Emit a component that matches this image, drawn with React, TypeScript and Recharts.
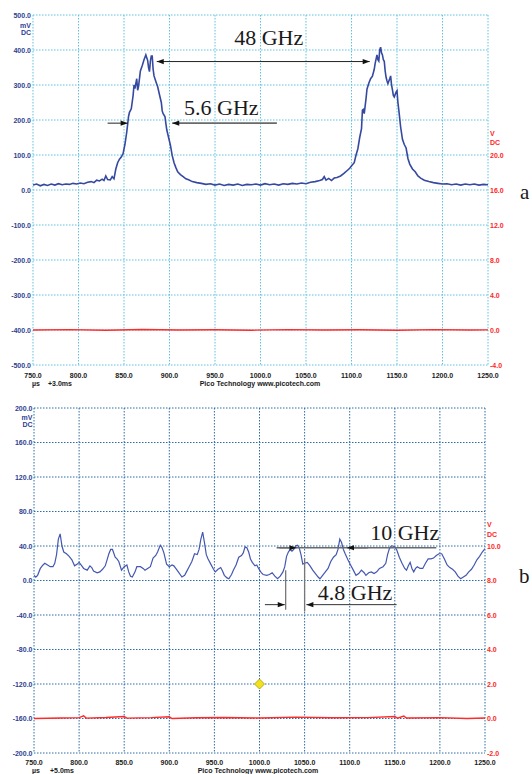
import { ComposedChart, Line, XAxis, YAxis, CartesianGrid, ReferenceLine, ReferenceDot } from 'recharts'

const timeTicks = [750, 800, 850, 900, 950, 1000, 1050, 1100, 1150, 1200, 1250]
const mvTicksA = [-500, -400, -300, -200, -100, 0, 100, 200, 300, 400, 500]
const vTicksA = [-4, 0, 4, 8, 12, 16, 20]
const mvTicksB = [-200, -160, -120, -80, -40, 0, 40, 80, 120, 160, 200]
const vTicksB = [-2, 0, 2, 4, 6, 8, 10]

// panel a: time (µs), mV
const traceA: [number, number][] = [
  [750, 14], [754, 17], [758, 12], [762, 16], [766, 13], [770, 17], [774, 14], [778, 18], [782, 15], [786, 17],
  [790, 16], [794, 19], [798, 17], [802, 20], [806, 18], [810, 22], [814, 24], [817, 21], [820, 28], [823, 26],
  [826, 31], [828, 27], [830, 40], [832, 30], [835, 29], [837, 38], [839, 32], [841, 60], [843, 78], [845, 88],
  [847, 94], [849, 104], [851, 130], [853, 165], [855, 210], [856, 222], [858, 232], [860, 270], [861, 300], [862, 290],
  [864, 318], [865, 285], [866, 296], [868, 340], [870, 355], [872, 372], [874, 386], [875, 378], [876, 370], [877, 350],
  [878, 338], [879, 368], [880, 383], [881, 383], [882, 345], [883, 326], [885, 310], [887, 295], [889, 272], [891, 250],
  [892, 226], [893, 218], [895, 210], [896, 190], [897, 172], [899, 150], [901, 128], [903, 98], [905, 78], [907, 64],
  [909, 52], [912, 44], [915, 38], [918, 32], [921, 29], [925, 24], [930, 21], [935, 19], [940, 16], [945, 18],
  [950, 14], [955, 17], [960, 13], [965, 16], [970, 14], [975, 17], [980, 13], [985, 16], [990, 15], [995, 17],
  [1000, 14], [1005, 18], [1010, 15], [1015, 17], [1020, 14], [1025, 18], [1030, 16], [1035, 19], [1040, 17], [1045, 20],
  [1050, 18], [1055, 22], [1060, 24], [1065, 27], [1068, 30], [1070, 38], [1072, 28], [1075, 33], [1078, 27], [1081, 34],
  [1084, 36], [1088, 40], [1092, 48], [1095, 55], [1098, 62], [1101, 72], [1103, 78], [1105, 100], [1107, 118], [1109, 150],
  [1111, 175], [1112, 228], [1113, 230], [1114, 218], [1116, 262], [1117, 288], [1119, 305], [1121, 318], [1123, 325], [1125, 345],
  [1126, 362], [1128, 386], [1129, 372], [1130, 368], [1131, 400], [1132, 408], [1133, 392], [1134, 386], [1135, 372], [1136, 368],
  [1137, 340], [1138, 322], [1139, 312], [1140, 304], [1142, 318], [1143, 326], [1144, 300], [1145, 286], [1146, 270], [1147, 266],
  [1149, 280], [1150, 284], [1151, 250], [1152, 228], [1154, 180], [1156, 145], [1158, 130], [1160, 120], [1162, 90], [1164, 74],
  [1167, 60], [1170, 52], [1173, 40], [1176, 34], [1180, 28], [1185, 24], [1190, 21], [1195, 19], [1200, 17], [1205, 18],
  [1210, 15], [1215, 17], [1220, 14], [1225, 17], [1230, 15], [1235, 17], [1240, 14], [1245, 16], [1250, 15],
]

// panel a: time (µs), V
const redA: [number, number][] = [
  [750, 0], [790, 0.04], [830, -0.03], [870, 0.05], [910, 0], [950, 0.03], [990, -0.02], [1030, 0.04],
  [1070, 0], [1110, 0.03], [1150, -0.02], [1190, 0.04], [1230, 0], [1250, 0.02],
]

// panel b: time (µs), mV
const traceB: [number, number][] = [
  [750, 6], [752, 4], [754, 6], [757, 14], [760, 18], [762, 20], [765, 18], [768, 16], [771, 16], [773, 20],
  [775, 30], [777, 48], [779, 54], [781, 40], [783, 33], [786, 31], [789, 28], [792, 24], [795, 17], [798, 19],
  [800, 21], [803, 17], [805, 14], [809, 12], [812, 17], [814, 15], [816, 11], [820, 9], [823, 10], [826, 13],
  [829, 17], [831, 24], [833, 31], [835, 36], [837, 36], [840, 27], [842, 25], [844, 22], [847, 12], [850, 16],
  [853, 18], [855, 10], [857, 5], [859, 4], [862, 10], [864, 16], [868, 16], [871, 14], [873, 12], [876, 14],
  [879, 16], [882, 26], [885, 29], [887, 33], [890, 41], [892, 38], [894, 32], [897, 19], [900, 16], [903, 18],
  [905, 17], [908, 13], [910, 10], [914, 4], [917, 6], [919, 10], [922, 16], [925, 22], [928, 31], [931, 30],
  [933, 36], [935, 48], [937, 56], [939, 44], [941, 30], [943, 25], [946, 19], [949, 13], [951, 10], [954, 13],
  [957, 15], [959, 11], [961, 6], [964, 3], [966, 2], [969, 7], [971, 12], [974, 18], [977, 27], [980, 29],
  [982, 32], [984, 39], [986, 38], [988, 33], [990, 25], [992, 21], [995, 17], [997, 18], [999, 14], [1002, 9],
  [1004, 7], [1008, 6], [1011, 7], [1014, 9], [1017, 5], [1020, 2], [1023, 5], [1026, 10], [1028, 16], [1030, 28],
  [1032, 33], [1034, 36], [1036, 34], [1038, 36], [1040, 40], [1042, 41], [1044, 38], [1046, 30], [1048, 19], [1050, 20],
  [1053, 21], [1056, 17], [1059, 12], [1062, 8], [1065, 4], [1067, 2], [1070, 6], [1073, 10], [1076, 14], [1079, 22],
  [1082, 27], [1085, 30], [1087, 36], [1089, 48], [1091, 44], [1093, 36], [1095, 31], [1098, 24], [1101, 18], [1104, 12],
  [1107, 6], [1110, 8], [1113, 12], [1116, 9], [1118, 6], [1121, 9], [1124, 10], [1127, 8], [1130, 10], [1133, 14],
  [1137, 16], [1140, 20], [1142, 30], [1144, 37], [1146, 40], [1148, 40], [1150, 39], [1152, 36], [1155, 27], [1158, 20],
  [1161, 14], [1163, 12], [1165, 17], [1167, 21], [1169, 14], [1171, 10], [1173, 14], [1175, 16], [1178, 14], [1181, 14],
  [1184, 20], [1187, 25], [1190, 25], [1193, 26], [1196, 29], [1199, 31], [1202, 31], [1205, 25], [1208, 18], [1211, 15],
  [1214, 13], [1217, 10], [1220, 5], [1223, 2], [1226, 4], [1229, 6], [1232, 10], [1235, 13], [1238, 18], [1241, 24],
  [1244, 28], [1247, 33], [1250, 37],
]

// panel b: time (µs), V
const redB: [number, number][] = [
  [750, 0], [780, 0.03], [800, 0.05], [805, 0.15], [808, 0.02], [830, 0.06], [850, 0.12], [853, 0.02], [880, 0.05],
  [900, 0.1], [903, 0], [930, 0.04], [960, 0.06], [1000, 0.03], [1040, 0.08], [1080, 0.04], [1120, 0.05], [1150, 0.12],
  [1153, 0.02], [1160, 0.14], [1163, 0.03], [1200, 0.05], [1230, 0], [1250, 0.03],
]

const toRows = (pairs: [number, number][]) => pairs.map(([t, v]) => ({ t, v }))

const SANS = 'Liberation Sans, Arial, sans-serif'
const SERIF = 'Liberation Serif, Times New Roman, serif'
const BLUE_TXT = '#2d3f92'
const RED_TXT = '#ff2626'

const leftTick = (topVal: number, dx: number, unitDy: [number, number]) => (p: any) => {
  const v = p.payload.value
  return (
    <g>
      <text x={p.x + dx} y={p.y} textAnchor="end" dominantBaseline="central" fontSize={7} fontWeight="bold" fontFamily={SANS} fill={BLUE_TXT}>
        {v.toFixed(1)}
      </text>
      {v === topVal && (
        <>
          <text x={p.x + dx} y={p.y + unitDy[0]} textAnchor="end" dominantBaseline="central" fontSize={7} fontWeight="bold" fontFamily={SANS} fill={BLUE_TXT}>mV</text>
          <text x={p.x + dx} y={p.y + unitDy[1]} textAnchor="end" dominantBaseline="central" fontSize={7} fontWeight="bold" fontFamily={SANS} fill={BLUE_TXT}>DC</text>
        </>
      )}
    </g>
  )
}

const rightTick = (topVal: number, dx: number, unitDy: [number, number]) => (p: any) => {
  const v = p.payload.value
  return (
    <g>
      <text x={p.x + dx} y={p.y} textAnchor="start" dominantBaseline="central" fontSize={7} fontWeight="bold" fontFamily={SANS} fill={RED_TXT}>
        {v.toFixed(1)}
      </text>
      {v === topVal && (
        <>
          <text x={p.x + dx} y={p.y + unitDy[0]} textAnchor="start" dominantBaseline="central" fontSize={7} fontWeight="bold" fontFamily={SANS} fill={RED_TXT}>V</text>
          <text x={p.x + dx} y={p.y + unitDy[1]} textAnchor="start" dominantBaseline="central" fontSize={7} fontWeight="bold" fontFamily={SANS} fill={RED_TXT}>DC</text>
        </>
      )}
    </g>
  )
}

const timeTick = (dy: number) => (p: any) => (
  <text x={p.x} y={p.y + dy} textAnchor="middle" dominantBaseline="central" fontSize={7} fontWeight="bold" fontFamily={SANS} fill="#1a1a1a">
    {p.payload.value.toFixed(1)}
  </text>
)

// arrowhead pointing from (fx,fy) toward (tx,ty)
const headPts = (tx: number, ty: number, fx: number, fy: number) => {
  const dx = tx - fx
  const dy = ty - fy
  const len = Math.hypot(dx, dy) || 1
  const ux = dx / len
  const uy = dy / len
  const L = 7
  const W = 2.6
  const bx = tx - ux * L
  const by = ty - uy * L
  return `${tx},${ty} ${bx - uy * W},${by + ux * W} ${bx + uy * W},${by - ux * W}`
}

const arrow = (color: string, width: number, head: 'none' | 'end' | 'both') => (p: any) => {
  const { x1, y1, x2, y2 } = p
  return (
    <g>
      <line x1={x1} y1={y1} x2={x2} y2={y2} stroke={color} strokeWidth={width} />
      {head !== 'none' && <polygon points={headPts(x2, y2, x1, y1)} fill="#111" />}
      {head === 'both' && <polygon points={headPts(x1, y1, x2, y2)} fill="#111" />}
    </g>
  )
}

const note = (label: string) => (p: any) => (
  <text x={p.cx} y={p.cy} textAnchor="middle" fontSize={22} fontFamily={SERIF} fill="#1a1a1a">
    {label}
  </text>
)

const diamond = (p: any) => (
  <polygon
    points={`${p.cx},${p.cy - 5} ${p.cx + 5},${p.cy} ${p.cx},${p.cy + 5} ${p.cx - 5},${p.cy}`}
    fill="#f2e21e"
    stroke="#a89a00"
    strokeWidth={0.8}
  />
)

function PanelA() {
  return (
    <ComposedChart width={532} height={390} margin={{ top: 15, right: 0, bottom: 0, left: 0 }}>
      <CartesianGrid yAxisId="l" stroke="#5ec3df" strokeDasharray="1.5 1.5" strokeWidth={1} />
      <XAxis
        type="number"
        dataKey="t"
        domain={[750, 1250]}
        ticks={timeTicks}
        interval={0}
        allowDataOverflow
        height={25}
        axisLine={false}
        tickLine={false}
        tickSize={0}
        tickMargin={0}
        tick={timeTick(10)}
      />
      <YAxis yAxisId="l" orientation="left" width={33} domain={[-500, 500]} ticks={mvTicksA} interval={0} allowDataOverflow axisLine={false} tickLine={false} tickSize={0} tickMargin={0} tick={leftTick(500, -2, [10, 17])} />
      <YAxis yAxisId="r" orientation="right" width={44} domain={[-4, 36]} ticks={vTicksA} interval={0} allowDataOverflow axisLine={false} tickLine={false} tickSize={0} tickMargin={0} tick={rightTick(20, 2, [-22, -13])} />
      <Line yAxisId="r" data={toRows(redA)} dataKey="v" stroke="#ff2a2a" strokeWidth={1.4} dot={false} isAnimationActive={false} />
      <Line yAxisId="l" data={toRows(traceA)} dataKey="v" stroke="#3549a0" strokeWidth={1.6} dot={false} isAnimationActive={false} />
      <ReferenceLine yAxisId="l" segment={[{ x: 886, y: 367 }, { x: 1120, y: 367 }]} shape={arrow('#222', 1, 'both')} />
      <ReferenceLine yAxisId="l" segment={[{ x: 832, y: 191 }, { x: 854, y: 191 }]} shape={arrow('#222', 1, 'end')} />
      <ReferenceLine yAxisId="l" segment={[{ x: 1018, y: 191 }, { x: 903, y: 191 }]} shape={arrow('#6a6a6a', 1.6, 'end')} />
      <ReferenceDot yAxisId="l" x={1009} y={414} shape={note('48 GHz')} />
      <ReferenceDot yAxisId="l" x={957} y={214} shape={note('5.6 GHz')} />
    </ComposedChart>
  )
}

function PanelB() {
  return (
    <ComposedChart width={532} height={384} margin={{ top: 18, right: 0, bottom: 0, left: 0 }}>
      <CartesianGrid yAxisId="l" stroke="#2f6ca6" strokeDasharray="1.5 1.5" strokeWidth={1} />
      <XAxis
        type="number"
        dataKey="t"
        domain={[750, 1250]}
        ticks={timeTicks}
        interval={0}
        allowDataOverflow
        height={21}
        axisLine={false}
        tickLine={false}
        tickSize={0}
        tickMargin={0}
        tick={timeTick(9)}
      />
      <YAxis yAxisId="l" orientation="left" width={34} domain={[-200, 200]} ticks={mvTicksB} interval={0} allowDataOverflow axisLine={false} tickLine={false} tickSize={0} tickMargin={0} tick={leftTick(200, -1.5, [9, 16])} />
      <YAxis yAxisId="r" orientation="right" width={47} domain={[-2, 18]} ticks={vTicksB} interval={0} allowDataOverflow axisLine={false} tickLine={false} tickSize={0} tickMargin={0} tick={rightTick(10, 2, [-22, -12])} />
      <Line yAxisId="r" data={toRows(redB)} dataKey="v" stroke="#ff2a2a" strokeWidth={1.4} dot={false} isAnimationActive={false} />
      <Line yAxisId="l" data={toRows(traceB)} dataKey="v" stroke="#4457b0" strokeWidth={1.2} dot={false} isAnimationActive={false} />
      <ReferenceDot yAxisId="l" x={1000} y={-120} shape={diamond} />
      <ReferenceLine yAxisId="l" segment={[{ x: 1019, y: 38 }, { x: 1196, y: 38 }]} shape={arrow('#6a6a6a', 1.6, 'none')} />
      <ReferenceLine yAxisId="l" segment={[{ x: 1022, y: 38 }, { x: 1041, y: 38 }]} shape={arrow('#6a6a6a', 1.6, 'end')} />
      <ReferenceLine yAxisId="l" segment={[{ x: 1120, y: 38 }, { x: 1097, y: 38 }]} shape={arrow('#6a6a6a', 1.6, 'end')} />
      <ReferenceLine yAxisId="l" segment={[{ x: 1029, y: 12 }, { x: 1029, y: -34 }]} shape={arrow('#777', 1.3, 'none')} />
      <ReferenceLine yAxisId="l" segment={[{ x: 1050, y: 26 }, { x: 1050, y: -36 }]} shape={arrow('#777', 1.3, 'none')} />
      <ReferenceLine yAxisId="l" segment={[{ x: 1006, y: -28 }, { x: 1028, y: -28 }]} shape={arrow('#333', 1, 'end')} />
      <ReferenceLine yAxisId="l" segment={[{ x: 1152, y: -28 }, { x: 1052, y: -28 }]} shape={arrow('#333', 1, 'end')} />
      <ReferenceDot yAxisId="l" x={1161} y={47} shape={note('10 GHz')} />
      <ReferenceDot yAxisId="l" x={1106} y={-22.6} shape={note('4.8 GHz')} />
    </ComposedChart>
  )
}

export default function App() {
  return (
    <div style={{ position: 'absolute', left: 0, top: 0, width: 532, height: 774, background: '#fff', overflow: 'hidden' }}>
      <div style={{ position: 'absolute', left: 0, top: 0 }}>
        <PanelA />
      </div>
      <div style={{ position: 'absolute', left: 0, top: 390 }}>
        <PanelB />
      </div>
      <svg width={532} height={774} style={{ position: 'absolute', left: 0, top: 0, pointerEvents: 'none' }}>
        <g fontFamily={SANS} fontSize={7} fontWeight="bold" fill="#1a1a1a">
          <text x={32} y={386}>µs</text>
          <text x={48} y={386}>+3.0ms</text>
          <text x={260} y={386} textAnchor="middle">Pico Technology  www.picotech.com</text>
          <text x={32} y={773}>µs</text>
          <text x={50} y={773}>+5.0ms</text>
          <text x={258} y={773} textAnchor="middle">Pico Technology  www.picotech.com</text>
        </g>
        <text x={520} y={199} fontFamily={SERIF} fontSize={21} fill="#1a1a1a">a</text>
        <text x={519} y={583} fontFamily={SERIF} fontSize={21} fill="#1a1a1a">b</text>
      </svg>
    </div>
  )
}
